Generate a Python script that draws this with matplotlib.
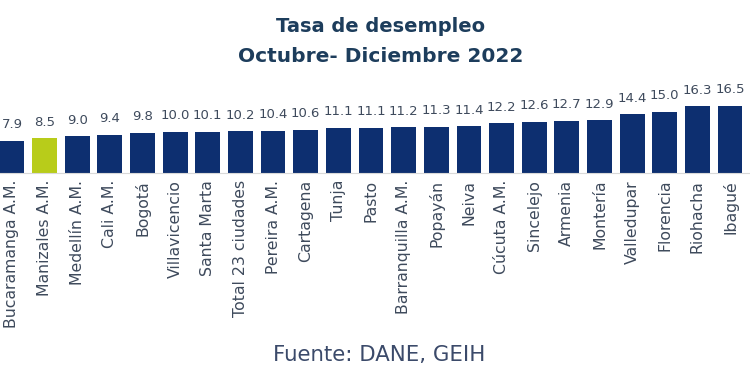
import matplotlib
matplotlib.use("Agg")
import matplotlib.pyplot as plt

# data
cities = ["Bucaramanga A.M.", "Manizales A.M.", "Medellín A.M.", "Cali A.M.",
          "Bogotá", "Villavicencio", "Santa Marta", "Total 23 ciudades",
          "Pereira A.M.", "Cartagena", "Tunja", "Pasto", "Barranquilla A.M.",
          "Popayán", "Neiva", "Cúcuta A.M.", "Sincelejo", "Armenia",
          "Montería", "Valledupar", "Florencia", "Riohacha", "Ibagué"]
rates = [7.9, 8.5, 9.0, 9.4, 9.8, 10.0, 10.1, 10.2, 10.4, 10.6, 11.1, 11.1,
         11.2, 11.3, 11.4, 12.2, 12.6, 12.7, 12.9, 14.4, 15.0, 16.3, 16.5]
highlight = "Manizales A.M."

NAVY = "#0d2f70"
LIME = "#b8cc1a"
TEXT = "#3e4a5c"
TITLE = "#1d3d5c"


def main():
    plt.rcParams["font.family"] = ["DejaVu Sans"]
    fig = plt.figure(figsize=(7.5, 3.75), dpi=100)
    # axes spans full width; baseline sits at y=173px from top
    px_per_unit = 4.08
    bottom = (375 - 173) / 375
    ytop = 30
    ax = fig.add_axes([0, bottom, 1, ytop * px_per_unit / 375])

    x = list(range(len(cities)))
    colors = [LIME if c == highlight else NAVY for c in cities]
    bars = ax.bar(x, rates, width=0.76, color=colors)
    ax.bar_label(bars, labels=[f"{v:.1f}" for v in rates], padding=7,
                 fontsize=9.5, color=TEXT)

    ax.set_xlim(-0.365, 22.61)
    ax.set_ylim(0, ytop)
    ax.set_xticks(x)
    ax.set_xticklabels(cities, rotation=90, fontsize=11.3, color=TEXT)
    ax.tick_params(axis="x", length=0, pad=5)
    ax.set_yticks([])
    for side in ["top", "right", "left"]:
        ax.spines[side].set_visible(False)
    ax.spines["bottom"].set_color("#d9d9d9")

    fig.text(0.507, 0.93, "Tasa de desempleo", ha="center", va="center",
             fontsize=14, fontweight="bold", color=TITLE)
    fig.text(0.507, 0.848, "Octubre- Diciembre 2022", ha="center", va="center",
             fontsize=14.5, fontweight="bold", color=TITLE)
    fig.text(0.505, 0.053, "Fuente: DANE, GEIH", ha="center", va="center",
             fontsize=15.3, color="#3b4a6a")

    fig.savefig("out.png", dpi=100)


if __name__ == "__main__":
    main()
